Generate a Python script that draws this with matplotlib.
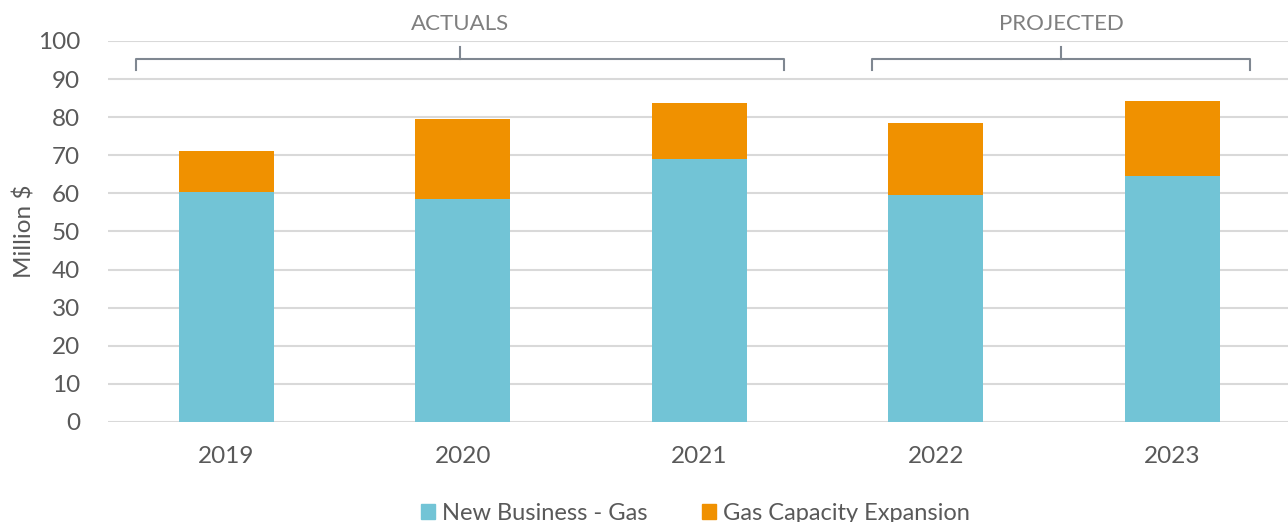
import matplotlib
matplotlib.use("Agg")
import matplotlib.pyplot as plt
from matplotlib.patches import Patch
import numpy as np

plt.rcParams["font.family"] = ["Lato", "DejaVu Sans"]

years = ["2019", "2020", "2021", "2022", "2023"]
new_business = [60.4, 58.5, 69.0, 59.6, 64.6]
capacity = [10.7, 20.9, 14.6, 19.0, 19.7]

teal = "#72c4d6"
orange = "#f09100"
text_grey = "#595959"
bracket_grey = "#7f8791"

fig = plt.figure(figsize=(12.88, 5.22), dpi=100)
ax = fig.add_axes([0.0839, 0.1916, 0.918, 0.7299])

x = np.arange(len(years))
ax.bar(x, new_business, width=0.4, color=teal, zorder=3)
ax.bar(x, capacity, width=0.4, bottom=new_business, color=orange, zorder=3)

ax.set_xlim(-0.5, 4.5)
ax.set_ylim(0, 100)
ax.set_yticks(range(0, 101, 10))
ax.set_xticks(x)
ax.set_xticklabels(years)
ax.tick_params(axis="both", length=0, labelsize=17.5, labelcolor=text_grey)
ax.tick_params(axis="y", pad=20)
ax.tick_params(axis="x", pad=17)
ax.grid(axis="y", color="#d9d9d9", linewidth=1.5, zorder=0)
for s in ax.spines.values():
    s.set_visible(False)
ax.set_ylabel("Million $", fontsize=17.5, color=text_grey, labelpad=2)


def bracket(x0, x1, label):
    xm = (x0 + x1) / 2
    kw = dict(color=bracket_grey, linewidth=1.5, clip_on=False, zorder=4)
    ax.plot([x0, x0, x1, x1], [92.4, 95.3, 95.3, 92.4], **kw)
    ax.plot([xm, xm], [95.3, 98.4], **kw)
    ax.text(xm, 104.5, label, ha="center", va="center", fontsize=16,
            color="#7f7f7f", clip_on=False)


bracket(-0.38, 2.36, "ACTUALS")
bracket(2.73, 4.33, "PROJECTED")

handles = [Patch(color=teal, label="New Business - Gas"),
           Patch(color=orange, label="Gas Capacity Expansion")]
fig.legend(handles=handles, loc="lower center", bbox_to_anchor=(0.54, -0.045),
           ncol=2, frameon=False, fontsize=17, labelcolor=text_grey,
           handlelength=0.6, handleheight=0.6, handletextpad=0.3,
           columnspacing=2.3)

fig.savefig("out.png", dpi=100)
